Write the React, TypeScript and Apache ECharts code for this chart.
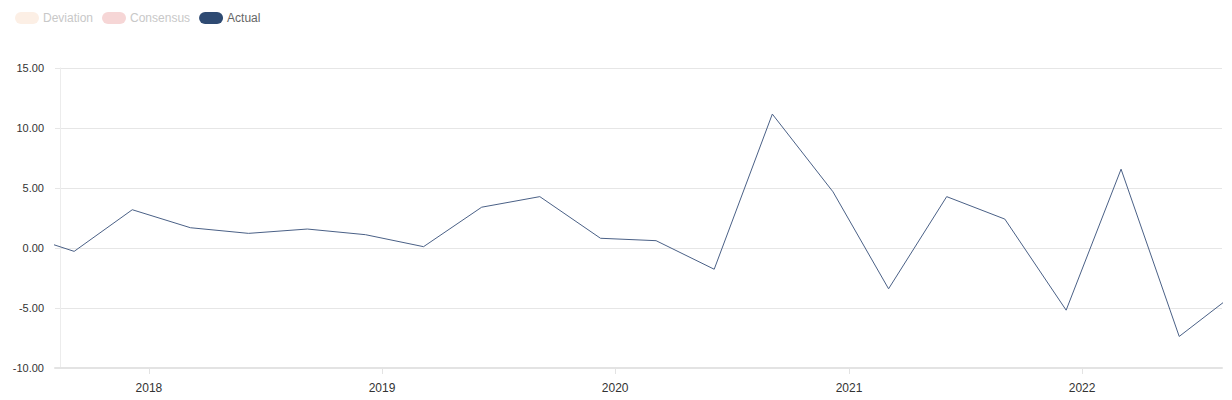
import React, { useEffect, useRef } from "react";
import * as echarts from "echarts";

const releaseDates = [
  "2017-06-07", "2017-09-06", "2017-12-06", "2018-03-07", "2018-06-06", "2018-09-06",
  "2018-12-06", "2019-03-07", "2019-06-06", "2019-09-05", "2019-12-09", "2020-03-05",
  "2020-06-04", "2020-09-03", "2020-12-07", "2021-03-04", "2021-06-03", "2021-09-02",
  "2021-12-07", "2022-03-03", "2022-06-02", "2022-09-07",
];
const actualValues = [
  1.3, -0.28, 3.19, 1.69, 1.22, 1.58,
  1.11, 0.11, 3.4, 4.28, 0.81, 0.61,
  -1.77, 11.16, 4.68, -3.4, 4.28, 2.41,
  -5.18, 6.57, -7.37, -3.39,
];
const consensusValues: number[] = [];
const deviationValues: number[] = [];
const yearTicks = [2018, 2019, 2020, 2021, 2022];
const seriesNames = ["Deviation", "Consensus", "Actual"];
const xRange = ["2017-08-07", "2022-08-08"];

const toTs = (d: string) => {
  const [y, m, day] = d.split("-").map(Number);
  return Date.UTC(y, m - 1, day);
};

const pill = "path://M6,0 L18,0 A6,6 0 0 1 18,12 L6,12 A6,6 0 0 1 6,0 Z";

export default function App() {
  const ref = useRef<HTMLDivElement>(null);
  useEffect(() => {
    if (!ref.current) return;
    const chart = echarts.init(ref.current, null, { renderer: "svg" });
    const yearTs = yearTicks.map((y) => Date.UTC(y, 0, 1));
    chart.setOption({
      animation: false,
      textStyle: { fontFamily: "Arial, 'Liberation Sans', sans-serif" },
      legend: {
        left: 10,
        top: 7,
        itemWidth: 24,
        itemHeight: 12,
        itemGap: 9,
        icon: pill,
        textStyle: { fontSize: 12, color: "#666", padding: [0, 0, 0, -1] },
        data: [
          { name: seriesNames[0], textStyle: { color: "#c8c8c8" } },
          { name: seriesNames[1], textStyle: { color: "#c8c8c8" } },
          { name: seriesNames[2], textStyle: { color: "#666" } },
        ],
      },
      grid: { left: 55, right: 10, top: 68, bottom: 32 },
      xAxis: {
        type: "value",
        min: toTs(xRange[0]),
        max: toTs(xRange[1]),
        axisLine: { show: true, onZero: false, lineStyle: { color: "#e3e3e3", width: 2 } },
        axisTick: { show: true, length: 6, lineStyle: { color: "#e3e3e3" }, customValues: yearTs },
        axisLabel: {
          customValues: yearTs,
          formatter: (v: number) => String(new Date(v).getUTCFullYear()),
          color: "#333",
          fontSize: 12,
          margin: 14,
        },
        splitLine: { show: false },
      },
      yAxis: {
        type: "value",
        min: -10,
        max: 15,
        interval: 5,
        offset: -5,
        axisLine: { show: true, lineStyle: { color: "#ececec" } },
        axisTick: { show: false },
        axisLabel: {
          formatter: (v: number) => v.toFixed(2),
          color: "#333",
          fontSize: 11,
          margin: 16,
        },
        splitLine: { show: true, lineStyle: { color: "#e6e6e6" } },
      },
      series: [
        {
          name: seriesNames[0],
          type: "bar",
          itemStyle: { color: "#fcefe5" },
          data: deviationValues,
        },
        {
          name: seriesNames[1],
          type: "line",
          itemStyle: { color: "#f6d6d6" },
          data: consensusValues,
        },
        {
          name: seriesNames[2],
          type: "line",
          showSymbol: false,
          symbol: "none",
          itemStyle: { color: "#2e4a72" },
          lineStyle: { color: "#4a6086", width: 1 },
          data: releaseDates.map((d, i) => [toTs(d), actualValues[i]]),
        },
      ],
    });
    return () => chart.dispose();
  }, []);
  return (
    <div
      ref={ref}
      style={{ position: "absolute", left: 0, top: 0, width: 1232, height: 400 }}
    />
  );
}
